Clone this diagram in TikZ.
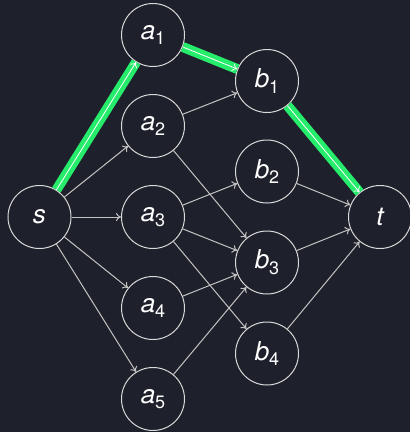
\documentclass[tikz,border=0pt]{standalone}
\usepackage{fontspec}
\setmainfont{TeX Gyre Heros}
\usetikzlibrary{arrows.meta}
\definecolor{bg}{RGB}{30,33,43}
\definecolor{edgec}{RGB}{195,195,195}
\definecolor{hl}{RGB}{38,236,108}
\newcommand{\sbs}[1]{\raisebox{-0.22em}{\fontsize{18}{18}\selectfont\upshape #1}}
\tikzset{
  vert/.style={circle, draw=white!85!black, line width=1pt, fill=bg, minimum size=63pt, inner sep=0pt, text=white, font=\fontsize{26}{26}\selectfont\itshape},
  edge/.style={draw=edgec, line width=1pt, -{To[length=5pt,width=8pt]}},
  hledge/.style={draw=hl, line width=10pt},
  hlinner/.style={draw=white, line width=0.8pt, -{To[length=5pt,width=8pt]}},
}
\begin{document}
\begin{tikzpicture}[x=1pt,y=-1pt]
\fill[bg] (0,0) rectangle (410,432);
\useasboundingbox (0,0) rectangle (410,432);
\node[vert] (s) at (39.5,217) {s};
\node[vert] (a1) at (153,35) {a\sbs{1}};
\node[vert] (a2) at (153,126) {a\sbs{2}};
\node[vert] (a3) at (153,217) {a\sbs{3}};
\node[vert] (a4) at (153,308) {a\sbs{4}};
\node[vert] (a5) at (153,399) {a\sbs{5}};
\node[vert] (b1) at (267,81) {b\sbs{1}};
\node[vert] (b2) at (267,171.5) {b\sbs{2}};
\node[vert] (b3) at (267,262.5) {b\sbs{3}};
\node[vert] (b4) at (267,353.5) {b\sbs{4}};
\node[vert] (t) at (380,217) {t};
\draw[edge] (s) -- (a2);
\draw[edge] (s) -- (a3);
\draw[edge] (s) -- (a4);
\draw[edge] (s) -- (a5);
\draw[edge] (a2) -- (b1);
\draw[edge] (a2) -- (b3);
\draw[edge] (a3) -- (b2);
\draw[edge] (a3) -- (b3);
\draw[edge] (a3) -- (b4);
\draw[edge] (a4) -- (b3);
\draw[edge] (a5) -- (b3);
\draw[edge] (b2) -- (t);
\draw[edge] (b3) -- (t);
\draw[edge] (b4) -- (t);
\draw[hledge] (s) -- (a1);
\draw[hlinner] (s) -- (a1);
\draw[hledge] (a1) -- (b1);
\draw[hlinner] (a1) -- (b1);
\draw[hledge] (b1) -- (t);
\draw[hlinner] (b1) -- (t);
\end{tikzpicture}
\end{document}
